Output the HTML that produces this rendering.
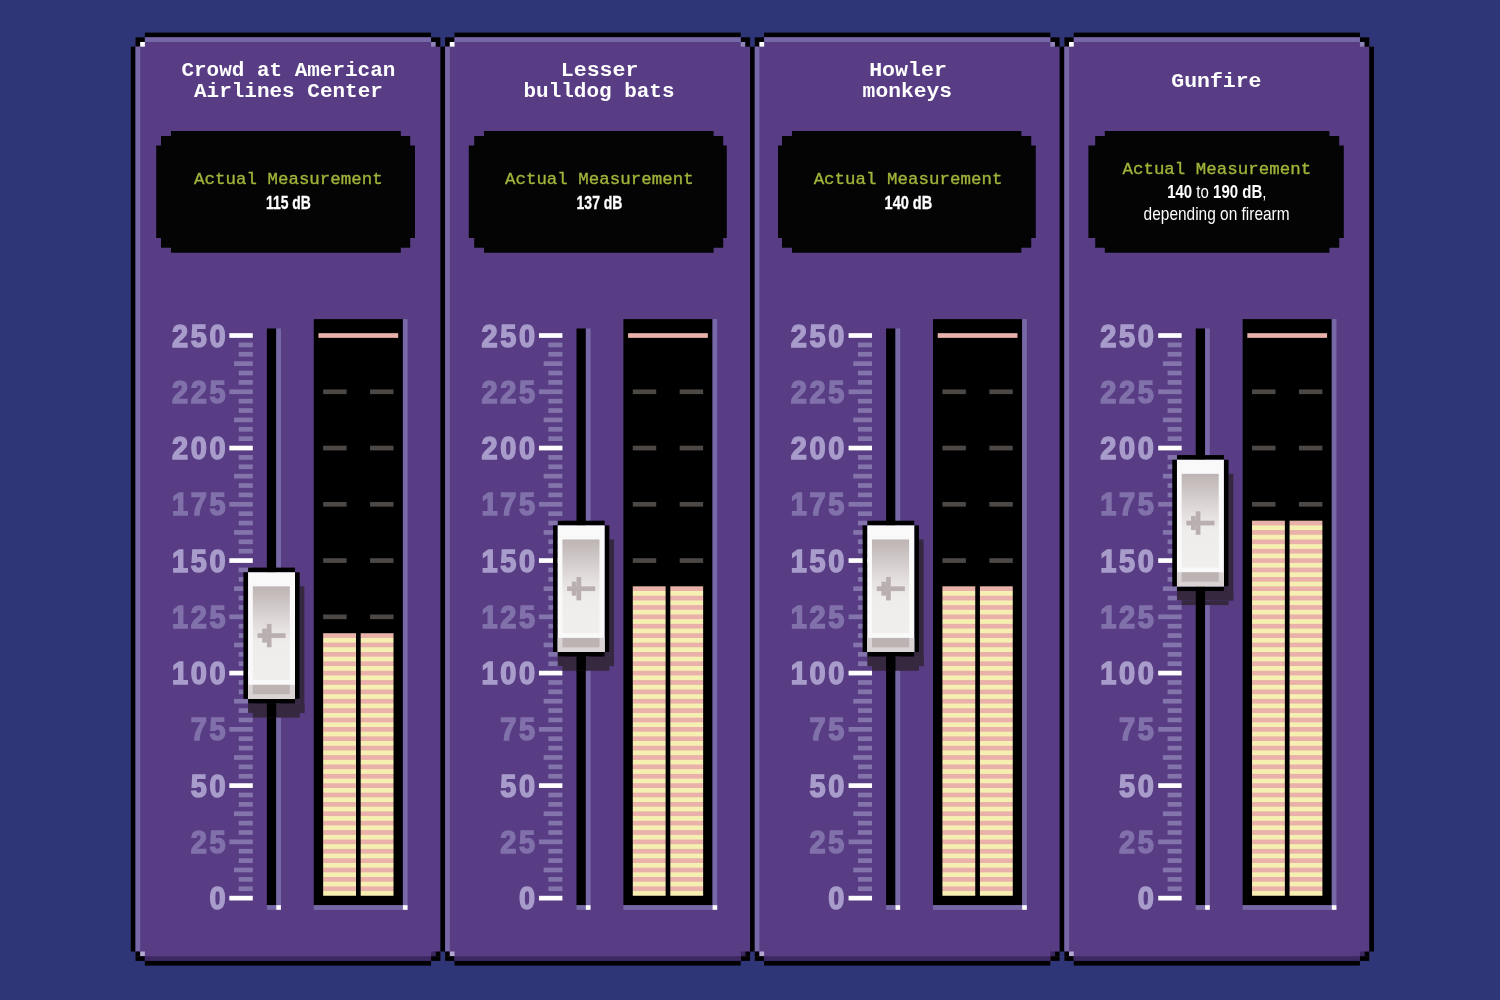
<!DOCTYPE html>
<html lang="en">
<head>
<meta charset="utf-8">
<title>Decibel levels</title>
<style>
html,body{margin:0;padding:0;background:#2e3677;}
body{width:1500px;height:1000px;overflow:hidden;}
svg{display:block;}
text{text-anchor:middle;}
.ttl{font-family:"Liberation Mono","DejaVu Sans Mono",monospace;font-weight:bold;font-size:19.8px;letter-spacing:0px;fill:#fff;}
.am{font-family:"Liberation Mono","DejaVu Sans Mono",monospace;font-size:17.4px;letter-spacing:0.05px;fill:#a3b43c;stroke:#a3b43c;stroke-width:0.35px;}
.val{font-family:"Liberation Sans",sans-serif;font-weight:bold;font-size:17.5px;fill:#fff;stroke:#fff;stroke-width:0.3px;}
.val2{font-family:"Liberation Sans",sans-serif;font-size:17.5px;fill:#fff;}
.val2 .b{font-weight:bold;}
.dg{font-family:"Liberation Sans",sans-serif;font-weight:bold;font-size:30.5px;letter-spacing:2.78px;text-anchor:end;stroke-width:1.5px;stroke-linejoin:miter;}
.db{fill:#a99dcb;stroke:#a99dcb;}
.dd{fill:#8272ab;stroke:#8272ab;}
</style>
</head>
<body>
<svg width="1500" height="1000" viewBox="0 0 1500 1000">
<defs>
<pattern id="stripes" x="0" y="1" width="2" height="2" patternUnits="userSpaceOnUse">
<rect x="0" y="0" width="2" height="1" fill="#e9b1a9"/><rect x="0" y="1" width="2" height="1" fill="#f5efb1"/>
</pattern>
<linearGradient id="kg" x1="0" y1="0" x2="0" y2="1">
<stop offset="0" stop-color="#bdb4b3"/><stop offset="0.45" stop-color="#e6e1e1"/><stop offset="0.6" stop-color="#efecec"/><stop offset="1" stop-color="#f1eeee"/>
</linearGradient>
</defs>
<rect x="0" y="0" width="1500" height="1000" fill="#2e3677"/>
<g transform="translate(-0.55 -0.22) scale(4.6913 4.6884)">
<g id="panel1">
<rect x="29" y="8" width="65" height="197" fill="#583d85"/>
<rect x="31" y="7" width="61" height="1" fill="#000000"/>
<rect x="29" y="8" width="2" height="1" fill="#000000"/>
<rect x="92" y="8" width="2" height="1" fill="#000000"/>
<rect x="31" y="8" width="61" height="1" fill="#7769a7"/>
<rect x="29" y="9" width="1" height="1" fill="#000000"/>
<rect x="30" y="9" width="1" height="1" fill="#ffffff"/>
<rect x="92" y="9" width="1" height="1" fill="#9184bb"/>
<rect x="93" y="9" width="1" height="1" fill="#000000"/>
<rect x="28" y="10" width="1" height="193" fill="#000000"/>
<rect x="29" y="10" width="1" height="193" fill="#7769a7"/>
<rect x="29" y="203" width="1" height="1" fill="#000000"/>
<rect x="30" y="203" width="1" height="1" fill="#b3a8d0"/>
<rect x="92" y="203" width="1" height="1" fill="#3e2864"/>
<rect x="93" y="203" width="1" height="1" fill="#000000"/>
<rect x="29" y="204" width="2" height="1" fill="#000000"/>
<rect x="92" y="204" width="2" height="1" fill="#000000"/>
<rect x="31" y="204" width="61" height="1" fill="#3e2864"/>
<rect x="31" y="205" width="61" height="1" fill="#000000"/>
<g transform="translate(0 0.11)">
<rect x="49" y="71" width="5" height="1" fill="#ffffff"/>
<rect x="51" y="73" width="3" height="1" fill="#8474ac"/>
<rect x="51" y="75" width="3" height="1" fill="#8474ac"/>
<rect x="50" y="77" width="4" height="1" fill="#8474ac"/>
<rect x="51" y="79" width="3" height="1" fill="#8474ac"/>
<rect x="51" y="81" width="3" height="1" fill="#8474ac"/>
<rect x="49" y="83" width="5" height="1" fill="#8474ac"/>
<rect x="51" y="85" width="3" height="1" fill="#8474ac"/>
<rect x="51" y="87" width="3" height="1" fill="#8474ac"/>
<rect x="50" y="89" width="4" height="1" fill="#8474ac"/>
<rect x="51" y="91" width="3" height="1" fill="#8474ac"/>
<rect x="51" y="93" width="3" height="1" fill="#8474ac"/>
<rect x="49" y="95" width="5" height="1" fill="#ffffff"/>
<rect x="51" y="97" width="3" height="1" fill="#8474ac"/>
<rect x="51" y="99" width="3" height="1" fill="#8474ac"/>
<rect x="50" y="101" width="4" height="1" fill="#8474ac"/>
<rect x="51" y="103" width="3" height="1" fill="#8474ac"/>
<rect x="51" y="105" width="3" height="1" fill="#8474ac"/>
<rect x="49" y="107" width="5" height="1" fill="#8474ac"/>
<rect x="51" y="109" width="3" height="1" fill="#8474ac"/>
<rect x="51" y="111" width="3" height="1" fill="#8474ac"/>
<rect x="50" y="113" width="4" height="1" fill="#8474ac"/>
<rect x="51" y="115" width="3" height="1" fill="#8474ac"/>
<rect x="51" y="117" width="3" height="1" fill="#8474ac"/>
<rect x="49" y="119" width="5" height="1" fill="#ffffff"/>
<rect x="51" y="121" width="3" height="1" fill="#8474ac"/>
<rect x="51" y="123" width="3" height="1" fill="#8474ac"/>
<rect x="50" y="125" width="4" height="1" fill="#8474ac"/>
<rect x="51" y="127" width="3" height="1" fill="#8474ac"/>
<rect x="51" y="129" width="3" height="1" fill="#8474ac"/>
<rect x="49" y="131" width="5" height="1" fill="#8474ac"/>
<rect x="51" y="133" width="3" height="1" fill="#8474ac"/>
<rect x="51" y="135" width="3" height="1" fill="#8474ac"/>
<rect x="50" y="137" width="4" height="1" fill="#8474ac"/>
<rect x="51" y="139" width="3" height="1" fill="#8474ac"/>
<rect x="51" y="141" width="3" height="1" fill="#8474ac"/>
<rect x="49" y="143" width="5" height="1" fill="#ffffff"/>
<rect x="51" y="145" width="3" height="1" fill="#8474ac"/>
<rect x="51" y="147" width="3" height="1" fill="#8474ac"/>
<rect x="50" y="149" width="4" height="1" fill="#8474ac"/>
<rect x="51" y="151" width="3" height="1" fill="#8474ac"/>
<rect x="51" y="153" width="3" height="1" fill="#8474ac"/>
<rect x="49" y="155" width="5" height="1" fill="#8474ac"/>
<rect x="51" y="157" width="3" height="1" fill="#8474ac"/>
<rect x="51" y="159" width="3" height="1" fill="#8474ac"/>
<rect x="50" y="161" width="4" height="1" fill="#8474ac"/>
<rect x="51" y="163" width="3" height="1" fill="#8474ac"/>
<rect x="51" y="165" width="3" height="1" fill="#8474ac"/>
<rect x="49" y="167" width="5" height="1" fill="#ffffff"/>
<rect x="51" y="169" width="3" height="1" fill="#8474ac"/>
<rect x="51" y="171" width="3" height="1" fill="#8474ac"/>
<rect x="50" y="173" width="4" height="1" fill="#8474ac"/>
<rect x="51" y="175" width="3" height="1" fill="#8474ac"/>
<rect x="51" y="177" width="3" height="1" fill="#8474ac"/>
<rect x="49" y="179" width="5" height="1" fill="#8474ac"/>
<rect x="51" y="181" width="3" height="1" fill="#8474ac"/>
<rect x="51" y="183" width="3" height="1" fill="#8474ac"/>
<rect x="50" y="185" width="4" height="1" fill="#8474ac"/>
<rect x="51" y="187" width="3" height="1" fill="#8474ac"/>
<rect x="51" y="189" width="3" height="1" fill="#8474ac"/>
<rect x="49" y="191" width="5" height="1" fill="#ffffff"/>
<rect x="57" y="70" width="2" height="123" fill="#000000"/>
<rect x="59" y="70" width="1" height="123" fill="#7769a7"/>
<rect x="57" y="193" width="2" height="1" fill="#7769a7"/>
<rect x="59" y="193" width="1" height="1" fill="#ffffff"/>
<rect x="67" y="68" width="19" height="125" fill="#000000"/>
<rect x="86" y="68" width="1" height="125" fill="#7769a7"/>
<rect x="67" y="193" width="19" height="1" fill="#7769a7"/>
<rect x="86" y="193" width="1" height="1" fill="#ffffff"/>
<rect x="68" y="71" width="17" height="1" fill="#e9b1a9"/>
<rect x="69" y="83" width="5" height="1" fill="#4b4846"/>
<rect x="79" y="83" width="5" height="1" fill="#4b4846"/>
<rect x="69" y="95" width="5" height="1" fill="#4b4846"/>
<rect x="79" y="95" width="5" height="1" fill="#4b4846"/>
<rect x="69" y="107" width="5" height="1" fill="#4b4846"/>
<rect x="79" y="107" width="5" height="1" fill="#4b4846"/>
<rect x="69" y="119" width="5" height="1" fill="#4b4846"/>
<rect x="79" y="119" width="5" height="1" fill="#4b4846"/>
<rect x="69" y="131" width="5" height="1" fill="#4b4846"/>
<rect x="79" y="131" width="5" height="1" fill="#4b4846"/>
<rect x="69" y="135" width="7" height="56" fill="url(#stripes)"/>
<rect x="77" y="135" width="7" height="56" fill="url(#stripes)"/>
<rect x="64" y="125" width="1" height="27" fill="#35283f"/>
<rect x="53" y="150" width="12" height="2" fill="#35283f"/>
<rect x="54" y="152" width="10" height="1" fill="#35283f"/>
<rect x="63" y="149" width="1" height="1" fill="#35283f"/>
<rect x="57" y="150" width="2" height="3" fill="#000000"/>
<rect x="53" y="121" width="10" height="1" fill="#000000"/>
<rect x="53" y="149" width="10" height="1" fill="#000000"/>
<rect x="52" y="122" width="1" height="27" fill="#000000"/>
<rect x="63" y="122" width="1" height="27" fill="#000000"/>
<rect x="53" y="122" width="10" height="27" fill="#faf9f9"/>
<rect x="54" y="125" width="7.9" height="20" fill="url(#kg)"/>
<rect x="53" y="146" width="10" height="3" fill="#dad3d3"/>
<rect x="54" y="146" width="7.9" height="2" fill="#bdb3b3"/>
<rect x="55" y="135" width="6" height="1" fill="#b9afb1"/>
<rect x="57" y="133" width="1" height="5" fill="#b9afb1"/>
<rect x="56" y="134" width="1" height="3" fill="#b9afb1"/>
</g>
</g>
<g id="panel2">
<rect x="95" y="8" width="65" height="197" fill="#583d85"/>
<rect x="97" y="7" width="61" height="1" fill="#000000"/>
<rect x="95" y="8" width="2" height="1" fill="#000000"/>
<rect x="158" y="8" width="2" height="1" fill="#000000"/>
<rect x="97" y="8" width="61" height="1" fill="#7769a7"/>
<rect x="95" y="9" width="1" height="1" fill="#000000"/>
<rect x="96" y="9" width="1" height="1" fill="#ffffff"/>
<rect x="158" y="9" width="1" height="1" fill="#9184bb"/>
<rect x="159" y="9" width="1" height="1" fill="#000000"/>
<rect x="94" y="10" width="1" height="193" fill="#000000"/>
<rect x="95" y="10" width="1" height="193" fill="#7769a7"/>
<rect x="95" y="203" width="1" height="1" fill="#000000"/>
<rect x="96" y="203" width="1" height="1" fill="#b3a8d0"/>
<rect x="158" y="203" width="1" height="1" fill="#3e2864"/>
<rect x="159" y="203" width="1" height="1" fill="#000000"/>
<rect x="95" y="204" width="2" height="1" fill="#000000"/>
<rect x="158" y="204" width="2" height="1" fill="#000000"/>
<rect x="97" y="204" width="61" height="1" fill="#3e2864"/>
<rect x="97" y="205" width="61" height="1" fill="#000000"/>
<g transform="translate(0 0.11)">
<rect x="115" y="71" width="5" height="1" fill="#ffffff"/>
<rect x="117" y="73" width="3" height="1" fill="#8474ac"/>
<rect x="117" y="75" width="3" height="1" fill="#8474ac"/>
<rect x="116" y="77" width="4" height="1" fill="#8474ac"/>
<rect x="117" y="79" width="3" height="1" fill="#8474ac"/>
<rect x="117" y="81" width="3" height="1" fill="#8474ac"/>
<rect x="115" y="83" width="5" height="1" fill="#8474ac"/>
<rect x="117" y="85" width="3" height="1" fill="#8474ac"/>
<rect x="117" y="87" width="3" height="1" fill="#8474ac"/>
<rect x="116" y="89" width="4" height="1" fill="#8474ac"/>
<rect x="117" y="91" width="3" height="1" fill="#8474ac"/>
<rect x="117" y="93" width="3" height="1" fill="#8474ac"/>
<rect x="115" y="95" width="5" height="1" fill="#ffffff"/>
<rect x="117" y="97" width="3" height="1" fill="#8474ac"/>
<rect x="117" y="99" width="3" height="1" fill="#8474ac"/>
<rect x="116" y="101" width="4" height="1" fill="#8474ac"/>
<rect x="117" y="103" width="3" height="1" fill="#8474ac"/>
<rect x="117" y="105" width="3" height="1" fill="#8474ac"/>
<rect x="115" y="107" width="5" height="1" fill="#8474ac"/>
<rect x="117" y="109" width="3" height="1" fill="#8474ac"/>
<rect x="117" y="111" width="3" height="1" fill="#8474ac"/>
<rect x="116" y="113" width="4" height="1" fill="#8474ac"/>
<rect x="117" y="115" width="3" height="1" fill="#8474ac"/>
<rect x="117" y="117" width="3" height="1" fill="#8474ac"/>
<rect x="115" y="119" width="5" height="1" fill="#ffffff"/>
<rect x="117" y="121" width="3" height="1" fill="#8474ac"/>
<rect x="117" y="123" width="3" height="1" fill="#8474ac"/>
<rect x="116" y="125" width="4" height="1" fill="#8474ac"/>
<rect x="117" y="127" width="3" height="1" fill="#8474ac"/>
<rect x="117" y="129" width="3" height="1" fill="#8474ac"/>
<rect x="115" y="131" width="5" height="1" fill="#8474ac"/>
<rect x="117" y="133" width="3" height="1" fill="#8474ac"/>
<rect x="117" y="135" width="3" height="1" fill="#8474ac"/>
<rect x="116" y="137" width="4" height="1" fill="#8474ac"/>
<rect x="117" y="139" width="3" height="1" fill="#8474ac"/>
<rect x="117" y="141" width="3" height="1" fill="#8474ac"/>
<rect x="115" y="143" width="5" height="1" fill="#ffffff"/>
<rect x="117" y="145" width="3" height="1" fill="#8474ac"/>
<rect x="117" y="147" width="3" height="1" fill="#8474ac"/>
<rect x="116" y="149" width="4" height="1" fill="#8474ac"/>
<rect x="117" y="151" width="3" height="1" fill="#8474ac"/>
<rect x="117" y="153" width="3" height="1" fill="#8474ac"/>
<rect x="115" y="155" width="5" height="1" fill="#8474ac"/>
<rect x="117" y="157" width="3" height="1" fill="#8474ac"/>
<rect x="117" y="159" width="3" height="1" fill="#8474ac"/>
<rect x="116" y="161" width="4" height="1" fill="#8474ac"/>
<rect x="117" y="163" width="3" height="1" fill="#8474ac"/>
<rect x="117" y="165" width="3" height="1" fill="#8474ac"/>
<rect x="115" y="167" width="5" height="1" fill="#ffffff"/>
<rect x="117" y="169" width="3" height="1" fill="#8474ac"/>
<rect x="117" y="171" width="3" height="1" fill="#8474ac"/>
<rect x="116" y="173" width="4" height="1" fill="#8474ac"/>
<rect x="117" y="175" width="3" height="1" fill="#8474ac"/>
<rect x="117" y="177" width="3" height="1" fill="#8474ac"/>
<rect x="115" y="179" width="5" height="1" fill="#8474ac"/>
<rect x="117" y="181" width="3" height="1" fill="#8474ac"/>
<rect x="117" y="183" width="3" height="1" fill="#8474ac"/>
<rect x="116" y="185" width="4" height="1" fill="#8474ac"/>
<rect x="117" y="187" width="3" height="1" fill="#8474ac"/>
<rect x="117" y="189" width="3" height="1" fill="#8474ac"/>
<rect x="115" y="191" width="5" height="1" fill="#ffffff"/>
<rect x="123" y="70" width="2" height="123" fill="#000000"/>
<rect x="125" y="70" width="1" height="123" fill="#7769a7"/>
<rect x="123" y="193" width="2" height="1" fill="#7769a7"/>
<rect x="125" y="193" width="1" height="1" fill="#ffffff"/>
<rect x="133" y="68" width="19" height="125" fill="#000000"/>
<rect x="152" y="68" width="1" height="125" fill="#7769a7"/>
<rect x="133" y="193" width="19" height="1" fill="#7769a7"/>
<rect x="152" y="193" width="1" height="1" fill="#ffffff"/>
<rect x="134" y="71" width="17" height="1" fill="#e9b1a9"/>
<rect x="135" y="83" width="5" height="1" fill="#4b4846"/>
<rect x="145" y="83" width="5" height="1" fill="#4b4846"/>
<rect x="135" y="95" width="5" height="1" fill="#4b4846"/>
<rect x="145" y="95" width="5" height="1" fill="#4b4846"/>
<rect x="135" y="107" width="5" height="1" fill="#4b4846"/>
<rect x="145" y="107" width="5" height="1" fill="#4b4846"/>
<rect x="135" y="119" width="5" height="1" fill="#4b4846"/>
<rect x="145" y="119" width="5" height="1" fill="#4b4846"/>
<rect x="135" y="125" width="7" height="66" fill="url(#stripes)"/>
<rect x="143" y="125" width="7" height="66" fill="url(#stripes)"/>
<rect x="130" y="115" width="1" height="27" fill="#35283f"/>
<rect x="119" y="140" width="12" height="2" fill="#35283f"/>
<rect x="120" y="142" width="10" height="1" fill="#35283f"/>
<rect x="129" y="139" width="1" height="1" fill="#35283f"/>
<rect x="123" y="140" width="2" height="3" fill="#000000"/>
<rect x="119" y="111" width="10" height="1" fill="#000000"/>
<rect x="119" y="139" width="10" height="1" fill="#000000"/>
<rect x="118" y="112" width="1" height="27" fill="#000000"/>
<rect x="129" y="112" width="1" height="27" fill="#000000"/>
<rect x="119" y="112" width="10" height="27" fill="#faf9f9"/>
<rect x="120" y="115" width="7.9" height="20" fill="url(#kg)"/>
<rect x="119" y="136" width="10" height="3" fill="#dad3d3"/>
<rect x="120" y="136" width="7.9" height="2" fill="#bdb3b3"/>
<rect x="121" y="125" width="6" height="1" fill="#b9afb1"/>
<rect x="123" y="123" width="1" height="5" fill="#b9afb1"/>
<rect x="122" y="124" width="1" height="3" fill="#b9afb1"/>
</g>
</g>
<g id="panel3">
<rect x="161" y="8" width="65" height="197" fill="#583d85"/>
<rect x="163" y="7" width="61" height="1" fill="#000000"/>
<rect x="161" y="8" width="2" height="1" fill="#000000"/>
<rect x="224" y="8" width="2" height="1" fill="#000000"/>
<rect x="163" y="8" width="61" height="1" fill="#7769a7"/>
<rect x="161" y="9" width="1" height="1" fill="#000000"/>
<rect x="162" y="9" width="1" height="1" fill="#ffffff"/>
<rect x="224" y="9" width="1" height="1" fill="#9184bb"/>
<rect x="225" y="9" width="1" height="1" fill="#000000"/>
<rect x="160" y="10" width="1" height="193" fill="#000000"/>
<rect x="161" y="10" width="1" height="193" fill="#7769a7"/>
<rect x="161" y="203" width="1" height="1" fill="#000000"/>
<rect x="162" y="203" width="1" height="1" fill="#b3a8d0"/>
<rect x="224" y="203" width="1" height="1" fill="#3e2864"/>
<rect x="225" y="203" width="1" height="1" fill="#000000"/>
<rect x="161" y="204" width="2" height="1" fill="#000000"/>
<rect x="224" y="204" width="2" height="1" fill="#000000"/>
<rect x="163" y="204" width="61" height="1" fill="#3e2864"/>
<rect x="163" y="205" width="61" height="1" fill="#000000"/>
<g transform="translate(0 0.11)">
<rect x="181" y="71" width="5" height="1" fill="#ffffff"/>
<rect x="183" y="73" width="3" height="1" fill="#8474ac"/>
<rect x="183" y="75" width="3" height="1" fill="#8474ac"/>
<rect x="182" y="77" width="4" height="1" fill="#8474ac"/>
<rect x="183" y="79" width="3" height="1" fill="#8474ac"/>
<rect x="183" y="81" width="3" height="1" fill="#8474ac"/>
<rect x="181" y="83" width="5" height="1" fill="#8474ac"/>
<rect x="183" y="85" width="3" height="1" fill="#8474ac"/>
<rect x="183" y="87" width="3" height="1" fill="#8474ac"/>
<rect x="182" y="89" width="4" height="1" fill="#8474ac"/>
<rect x="183" y="91" width="3" height="1" fill="#8474ac"/>
<rect x="183" y="93" width="3" height="1" fill="#8474ac"/>
<rect x="181" y="95" width="5" height="1" fill="#ffffff"/>
<rect x="183" y="97" width="3" height="1" fill="#8474ac"/>
<rect x="183" y="99" width="3" height="1" fill="#8474ac"/>
<rect x="182" y="101" width="4" height="1" fill="#8474ac"/>
<rect x="183" y="103" width="3" height="1" fill="#8474ac"/>
<rect x="183" y="105" width="3" height="1" fill="#8474ac"/>
<rect x="181" y="107" width="5" height="1" fill="#8474ac"/>
<rect x="183" y="109" width="3" height="1" fill="#8474ac"/>
<rect x="183" y="111" width="3" height="1" fill="#8474ac"/>
<rect x="182" y="113" width="4" height="1" fill="#8474ac"/>
<rect x="183" y="115" width="3" height="1" fill="#8474ac"/>
<rect x="183" y="117" width="3" height="1" fill="#8474ac"/>
<rect x="181" y="119" width="5" height="1" fill="#ffffff"/>
<rect x="183" y="121" width="3" height="1" fill="#8474ac"/>
<rect x="183" y="123" width="3" height="1" fill="#8474ac"/>
<rect x="182" y="125" width="4" height="1" fill="#8474ac"/>
<rect x="183" y="127" width="3" height="1" fill="#8474ac"/>
<rect x="183" y="129" width="3" height="1" fill="#8474ac"/>
<rect x="181" y="131" width="5" height="1" fill="#8474ac"/>
<rect x="183" y="133" width="3" height="1" fill="#8474ac"/>
<rect x="183" y="135" width="3" height="1" fill="#8474ac"/>
<rect x="182" y="137" width="4" height="1" fill="#8474ac"/>
<rect x="183" y="139" width="3" height="1" fill="#8474ac"/>
<rect x="183" y="141" width="3" height="1" fill="#8474ac"/>
<rect x="181" y="143" width="5" height="1" fill="#ffffff"/>
<rect x="183" y="145" width="3" height="1" fill="#8474ac"/>
<rect x="183" y="147" width="3" height="1" fill="#8474ac"/>
<rect x="182" y="149" width="4" height="1" fill="#8474ac"/>
<rect x="183" y="151" width="3" height="1" fill="#8474ac"/>
<rect x="183" y="153" width="3" height="1" fill="#8474ac"/>
<rect x="181" y="155" width="5" height="1" fill="#8474ac"/>
<rect x="183" y="157" width="3" height="1" fill="#8474ac"/>
<rect x="183" y="159" width="3" height="1" fill="#8474ac"/>
<rect x="182" y="161" width="4" height="1" fill="#8474ac"/>
<rect x="183" y="163" width="3" height="1" fill="#8474ac"/>
<rect x="183" y="165" width="3" height="1" fill="#8474ac"/>
<rect x="181" y="167" width="5" height="1" fill="#ffffff"/>
<rect x="183" y="169" width="3" height="1" fill="#8474ac"/>
<rect x="183" y="171" width="3" height="1" fill="#8474ac"/>
<rect x="182" y="173" width="4" height="1" fill="#8474ac"/>
<rect x="183" y="175" width="3" height="1" fill="#8474ac"/>
<rect x="183" y="177" width="3" height="1" fill="#8474ac"/>
<rect x="181" y="179" width="5" height="1" fill="#8474ac"/>
<rect x="183" y="181" width="3" height="1" fill="#8474ac"/>
<rect x="183" y="183" width="3" height="1" fill="#8474ac"/>
<rect x="182" y="185" width="4" height="1" fill="#8474ac"/>
<rect x="183" y="187" width="3" height="1" fill="#8474ac"/>
<rect x="183" y="189" width="3" height="1" fill="#8474ac"/>
<rect x="181" y="191" width="5" height="1" fill="#ffffff"/>
<rect x="189" y="70" width="2" height="123" fill="#000000"/>
<rect x="191" y="70" width="1" height="123" fill="#7769a7"/>
<rect x="189" y="193" width="2" height="1" fill="#7769a7"/>
<rect x="191" y="193" width="1" height="1" fill="#ffffff"/>
<rect x="199" y="68" width="19" height="125" fill="#000000"/>
<rect x="218" y="68" width="1" height="125" fill="#7769a7"/>
<rect x="199" y="193" width="19" height="1" fill="#7769a7"/>
<rect x="218" y="193" width="1" height="1" fill="#ffffff"/>
<rect x="200" y="71" width="17" height="1" fill="#e9b1a9"/>
<rect x="201" y="83" width="5" height="1" fill="#4b4846"/>
<rect x="211" y="83" width="5" height="1" fill="#4b4846"/>
<rect x="201" y="95" width="5" height="1" fill="#4b4846"/>
<rect x="211" y="95" width="5" height="1" fill="#4b4846"/>
<rect x="201" y="107" width="5" height="1" fill="#4b4846"/>
<rect x="211" y="107" width="5" height="1" fill="#4b4846"/>
<rect x="201" y="119" width="5" height="1" fill="#4b4846"/>
<rect x="211" y="119" width="5" height="1" fill="#4b4846"/>
<rect x="201" y="125" width="7" height="66" fill="url(#stripes)"/>
<rect x="209" y="125" width="7" height="66" fill="url(#stripes)"/>
<rect x="196" y="115" width="1" height="27" fill="#35283f"/>
<rect x="185" y="140" width="12" height="2" fill="#35283f"/>
<rect x="186" y="142" width="10" height="1" fill="#35283f"/>
<rect x="195" y="139" width="1" height="1" fill="#35283f"/>
<rect x="189" y="140" width="2" height="3" fill="#000000"/>
<rect x="185" y="111" width="10" height="1" fill="#000000"/>
<rect x="185" y="139" width="10" height="1" fill="#000000"/>
<rect x="184" y="112" width="1" height="27" fill="#000000"/>
<rect x="195" y="112" width="1" height="27" fill="#000000"/>
<rect x="185" y="112" width="10" height="27" fill="#faf9f9"/>
<rect x="186" y="115" width="7.9" height="20" fill="url(#kg)"/>
<rect x="185" y="136" width="10" height="3" fill="#dad3d3"/>
<rect x="186" y="136" width="7.9" height="2" fill="#bdb3b3"/>
<rect x="187" y="125" width="6" height="1" fill="#b9afb1"/>
<rect x="189" y="123" width="1" height="5" fill="#b9afb1"/>
<rect x="188" y="124" width="1" height="3" fill="#b9afb1"/>
</g>
</g>
<g id="panel4">
<rect x="227" y="8" width="65" height="197" fill="#583d85"/>
<rect x="229" y="7" width="61" height="1" fill="#000000"/>
<rect x="227" y="8" width="2" height="1" fill="#000000"/>
<rect x="290" y="8" width="2" height="1" fill="#000000"/>
<rect x="229" y="8" width="61" height="1" fill="#7769a7"/>
<rect x="227" y="9" width="1" height="1" fill="#000000"/>
<rect x="228" y="9" width="1" height="1" fill="#ffffff"/>
<rect x="290" y="9" width="1" height="1" fill="#9184bb"/>
<rect x="291" y="9" width="1" height="1" fill="#000000"/>
<rect x="226" y="10" width="1" height="193" fill="#000000"/>
<rect x="227" y="10" width="1" height="193" fill="#7769a7"/>
<rect x="227" y="203" width="1" height="1" fill="#000000"/>
<rect x="228" y="203" width="1" height="1" fill="#b3a8d0"/>
<rect x="290" y="203" width="1" height="1" fill="#3e2864"/>
<rect x="291" y="203" width="1" height="1" fill="#000000"/>
<rect x="227" y="204" width="2" height="1" fill="#000000"/>
<rect x="290" y="204" width="2" height="1" fill="#000000"/>
<rect x="229" y="204" width="61" height="1" fill="#3e2864"/>
<rect x="229" y="205" width="61" height="1" fill="#000000"/>
<g transform="translate(0 0.11)">
<rect x="247" y="71" width="5" height="1" fill="#ffffff"/>
<rect x="249" y="73" width="3" height="1" fill="#8474ac"/>
<rect x="249" y="75" width="3" height="1" fill="#8474ac"/>
<rect x="248" y="77" width="4" height="1" fill="#8474ac"/>
<rect x="249" y="79" width="3" height="1" fill="#8474ac"/>
<rect x="249" y="81" width="3" height="1" fill="#8474ac"/>
<rect x="247" y="83" width="5" height="1" fill="#8474ac"/>
<rect x="249" y="85" width="3" height="1" fill="#8474ac"/>
<rect x="249" y="87" width="3" height="1" fill="#8474ac"/>
<rect x="248" y="89" width="4" height="1" fill="#8474ac"/>
<rect x="249" y="91" width="3" height="1" fill="#8474ac"/>
<rect x="249" y="93" width="3" height="1" fill="#8474ac"/>
<rect x="247" y="95" width="5" height="1" fill="#ffffff"/>
<rect x="249" y="97" width="3" height="1" fill="#8474ac"/>
<rect x="249" y="99" width="3" height="1" fill="#8474ac"/>
<rect x="248" y="101" width="4" height="1" fill="#8474ac"/>
<rect x="249" y="103" width="3" height="1" fill="#8474ac"/>
<rect x="249" y="105" width="3" height="1" fill="#8474ac"/>
<rect x="247" y="107" width="5" height="1" fill="#8474ac"/>
<rect x="249" y="109" width="3" height="1" fill="#8474ac"/>
<rect x="249" y="111" width="3" height="1" fill="#8474ac"/>
<rect x="248" y="113" width="4" height="1" fill="#8474ac"/>
<rect x="249" y="115" width="3" height="1" fill="#8474ac"/>
<rect x="249" y="117" width="3" height="1" fill="#8474ac"/>
<rect x="247" y="119" width="5" height="1" fill="#ffffff"/>
<rect x="249" y="121" width="3" height="1" fill="#8474ac"/>
<rect x="249" y="123" width="3" height="1" fill="#8474ac"/>
<rect x="248" y="125" width="4" height="1" fill="#8474ac"/>
<rect x="249" y="127" width="3" height="1" fill="#8474ac"/>
<rect x="249" y="129" width="3" height="1" fill="#8474ac"/>
<rect x="247" y="131" width="5" height="1" fill="#8474ac"/>
<rect x="249" y="133" width="3" height="1" fill="#8474ac"/>
<rect x="249" y="135" width="3" height="1" fill="#8474ac"/>
<rect x="248" y="137" width="4" height="1" fill="#8474ac"/>
<rect x="249" y="139" width="3" height="1" fill="#8474ac"/>
<rect x="249" y="141" width="3" height="1" fill="#8474ac"/>
<rect x="247" y="143" width="5" height="1" fill="#ffffff"/>
<rect x="249" y="145" width="3" height="1" fill="#8474ac"/>
<rect x="249" y="147" width="3" height="1" fill="#8474ac"/>
<rect x="248" y="149" width="4" height="1" fill="#8474ac"/>
<rect x="249" y="151" width="3" height="1" fill="#8474ac"/>
<rect x="249" y="153" width="3" height="1" fill="#8474ac"/>
<rect x="247" y="155" width="5" height="1" fill="#8474ac"/>
<rect x="249" y="157" width="3" height="1" fill="#8474ac"/>
<rect x="249" y="159" width="3" height="1" fill="#8474ac"/>
<rect x="248" y="161" width="4" height="1" fill="#8474ac"/>
<rect x="249" y="163" width="3" height="1" fill="#8474ac"/>
<rect x="249" y="165" width="3" height="1" fill="#8474ac"/>
<rect x="247" y="167" width="5" height="1" fill="#ffffff"/>
<rect x="249" y="169" width="3" height="1" fill="#8474ac"/>
<rect x="249" y="171" width="3" height="1" fill="#8474ac"/>
<rect x="248" y="173" width="4" height="1" fill="#8474ac"/>
<rect x="249" y="175" width="3" height="1" fill="#8474ac"/>
<rect x="249" y="177" width="3" height="1" fill="#8474ac"/>
<rect x="247" y="179" width="5" height="1" fill="#8474ac"/>
<rect x="249" y="181" width="3" height="1" fill="#8474ac"/>
<rect x="249" y="183" width="3" height="1" fill="#8474ac"/>
<rect x="248" y="185" width="4" height="1" fill="#8474ac"/>
<rect x="249" y="187" width="3" height="1" fill="#8474ac"/>
<rect x="249" y="189" width="3" height="1" fill="#8474ac"/>
<rect x="247" y="191" width="5" height="1" fill="#ffffff"/>
<rect x="255" y="70" width="2" height="123" fill="#000000"/>
<rect x="257" y="70" width="1" height="123" fill="#7769a7"/>
<rect x="255" y="193" width="2" height="1" fill="#7769a7"/>
<rect x="257" y="193" width="1" height="1" fill="#ffffff"/>
<rect x="265" y="68" width="19" height="125" fill="#000000"/>
<rect x="284" y="68" width="1" height="125" fill="#7769a7"/>
<rect x="265" y="193" width="19" height="1" fill="#7769a7"/>
<rect x="284" y="193" width="1" height="1" fill="#ffffff"/>
<rect x="266" y="71" width="17" height="1" fill="#e9b1a9"/>
<rect x="267" y="83" width="5" height="1" fill="#4b4846"/>
<rect x="277" y="83" width="5" height="1" fill="#4b4846"/>
<rect x="267" y="95" width="5" height="1" fill="#4b4846"/>
<rect x="277" y="95" width="5" height="1" fill="#4b4846"/>
<rect x="267" y="107" width="5" height="1" fill="#4b4846"/>
<rect x="277" y="107" width="5" height="1" fill="#4b4846"/>
<rect x="267" y="111" width="7" height="80" fill="url(#stripes)"/>
<rect x="275" y="111" width="7" height="80" fill="url(#stripes)"/>
<rect x="262" y="101" width="1" height="27" fill="#35283f"/>
<rect x="251" y="126" width="12" height="2" fill="#35283f"/>
<rect x="252" y="128" width="10" height="1" fill="#35283f"/>
<rect x="261" y="125" width="1" height="1" fill="#35283f"/>
<rect x="255" y="126" width="2" height="3" fill="#000000"/>
<rect x="251" y="97" width="10" height="1" fill="#000000"/>
<rect x="251" y="125" width="10" height="1" fill="#000000"/>
<rect x="250" y="98" width="1" height="27" fill="#000000"/>
<rect x="261" y="98" width="1" height="27" fill="#000000"/>
<rect x="251" y="98" width="10" height="27" fill="#faf9f9"/>
<rect x="252" y="101" width="7.9" height="20" fill="url(#kg)"/>
<rect x="251" y="122" width="10" height="3" fill="#dad3d3"/>
<rect x="252" y="122" width="7.9" height="2" fill="#bdb3b3"/>
<rect x="253" y="111" width="6" height="1" fill="#b9afb1"/>
<rect x="255" y="109" width="1" height="5" fill="#b9afb1"/>
<rect x="254" y="110" width="1" height="3" fill="#b9afb1"/>
</g>
</g>
<rect x="292" y="10" width="1" height="193" fill="#000000"/>
</g>
<path fill="#040404" d="M171.0 131.0H400.8V135.9H410.2V145.4H415.0V238.0H410.2V247.8H400.8V252.8H171.0V247.8H161.0V238.0H156.2V145.4H161.0V135.9H171.0Z"/>
<path fill="#040404" d="M484.0 131.0H713.6V135.9H723.2V145.4H726.8V238.0H723.2V247.8H713.6V252.8H484.0V247.8H474.2V238.0H468.8V145.4H474.2V135.9H484.0Z"/>
<path fill="#040404" d="M792.0 131.0H1021.4V135.9H1031.2V145.4H1035.8V238.0H1031.2V247.8H1021.4V252.8H792.0V247.8H782.0V238.0H778.0V145.4H782.0V135.9H792.0Z"/>
<path fill="#040404" d="M1104.8 131.0H1329.4V135.9H1339.2V145.4H1343.8V238.0H1339.2V247.8H1329.4V252.8H1104.8V247.8H1095.2V238.0H1088.4V145.4H1095.2V135.9H1104.8Z"/>
<g id="labels" style="opacity:0.999">
<text transform="translate(228.3 346.675) scale(0.95 1)" class="dg db">250</text>
<text transform="translate(228.3 402.925) scale(0.95 1)" class="dg dd">225</text>
<text transform="translate(228.3 459.175) scale(0.95 1)" class="dg db">200</text>
<text transform="translate(228.3 515.425) scale(0.95 1)" class="dg dd">175</text>
<text transform="translate(228.3 571.675) scale(0.95 1)" class="dg db">150</text>
<text transform="translate(228.3 627.925) scale(0.95 1)" class="dg dd">125</text>
<text transform="translate(228.3 684.175) scale(0.95 1)" class="dg db">100</text>
<text transform="translate(228.3 740.425) scale(0.95 1)" class="dg dd">75</text>
<text transform="translate(228.3 796.675) scale(0.95 1)" class="dg db">50</text>
<text transform="translate(228.3 852.925) scale(0.95 1)" class="dg dd">25</text>
<text transform="translate(228.3 909.175) scale(0.95 1)" class="dg db">0</text>
<text transform="translate(537.675 346.675) scale(0.95 1)" class="dg db">250</text>
<text transform="translate(537.675 402.925) scale(0.95 1)" class="dg dd">225</text>
<text transform="translate(537.675 459.175) scale(0.95 1)" class="dg db">200</text>
<text transform="translate(537.675 515.425) scale(0.95 1)" class="dg dd">175</text>
<text transform="translate(537.675 571.675) scale(0.95 1)" class="dg db">150</text>
<text transform="translate(537.675 627.925) scale(0.95 1)" class="dg dd">125</text>
<text transform="translate(537.675 684.175) scale(0.95 1)" class="dg db">100</text>
<text transform="translate(537.675 740.425) scale(0.95 1)" class="dg dd">75</text>
<text transform="translate(537.675 796.675) scale(0.95 1)" class="dg db">50</text>
<text transform="translate(537.675 852.925) scale(0.95 1)" class="dg dd">25</text>
<text transform="translate(537.675 909.175) scale(0.95 1)" class="dg db">0</text>
<text transform="translate(847.05 346.675) scale(0.95 1)" class="dg db">250</text>
<text transform="translate(847.05 402.925) scale(0.95 1)" class="dg dd">225</text>
<text transform="translate(847.05 459.175) scale(0.95 1)" class="dg db">200</text>
<text transform="translate(847.05 515.425) scale(0.95 1)" class="dg dd">175</text>
<text transform="translate(847.05 571.675) scale(0.95 1)" class="dg db">150</text>
<text transform="translate(847.05 627.925) scale(0.95 1)" class="dg dd">125</text>
<text transform="translate(847.05 684.175) scale(0.95 1)" class="dg db">100</text>
<text transform="translate(847.05 740.425) scale(0.95 1)" class="dg dd">75</text>
<text transform="translate(847.05 796.675) scale(0.95 1)" class="dg db">50</text>
<text transform="translate(847.05 852.925) scale(0.95 1)" class="dg dd">25</text>
<text transform="translate(847.05 909.175) scale(0.95 1)" class="dg db">0</text>
<text transform="translate(1156.42 346.675) scale(0.95 1)" class="dg db">250</text>
<text transform="translate(1156.42 402.925) scale(0.95 1)" class="dg dd">225</text>
<text transform="translate(1156.42 459.175) scale(0.95 1)" class="dg db">200</text>
<text transform="translate(1156.42 515.425) scale(0.95 1)" class="dg dd">175</text>
<text transform="translate(1156.42 571.675) scale(0.95 1)" class="dg db">150</text>
<text transform="translate(1156.42 627.925) scale(0.95 1)" class="dg dd">125</text>
<text transform="translate(1156.42 684.175) scale(0.95 1)" class="dg db">100</text>
<text transform="translate(1156.42 740.425) scale(0.95 1)" class="dg dd">75</text>
<text transform="translate(1156.42 796.675) scale(0.95 1)" class="dg db">50</text>
<text transform="translate(1156.42 852.925) scale(0.95 1)" class="dg dd">25</text>
<text transform="translate(1156.42 909.175) scale(0.95 1)" class="dg db">0</text>
<text transform="translate(288.4 75.9) scale(1.06 1)" class="ttl">Crowd at American</text>
<text transform="translate(288.4 97.4) scale(1.06 1)" class="ttl">Airlines Center</text>
<text transform="translate(599.6 75.9) scale(1.09 1)" class="ttl">Lesser</text>
<text transform="translate(599 97.4) scale(1.06 1)" class="ttl">bulldog bats</text>
<text transform="translate(908 75.9) scale(1.09 1)" class="ttl">Howler</text>
<text transform="translate(907.3 97.4) scale(1.075 1)" class="ttl">monkeys</text>
<text transform="translate(1216.4 86.7) scale(1.085 1)" class="ttl">Gunfire</text>
<text transform="translate(288.4 184.4) scale(1 1)" class="am">Actual Measurement</text>
<text transform="translate(599.3 184.4) scale(1 1)" class="am">Actual Measurement</text>
<text transform="translate(908 184.4) scale(1 1)" class="am">Actual Measurement</text>
<text transform="translate(1216.8 174) scale(1 1)" class="am">Actual Measurement</text>
<text transform="translate(288.4 208.7) scale(0.795 1)" class="val">115 dB</text>
<text transform="translate(599.5 208.7) scale(0.8 1)" class="val">137 dB</text>
<text transform="translate(908.4 208.7) scale(0.83 1)" class="val">140 dB</text>
<text transform="translate(1216.8 197.5) scale(0.858 1)" class="val2"><tspan class="b">140</tspan> to <tspan class="b">190 dB</tspan>,</text>
<text transform="translate(1216.6 220) scale(0.883 1)" class="val2">depending on firearm</text>
</g>
</svg>
</body>
</html>
